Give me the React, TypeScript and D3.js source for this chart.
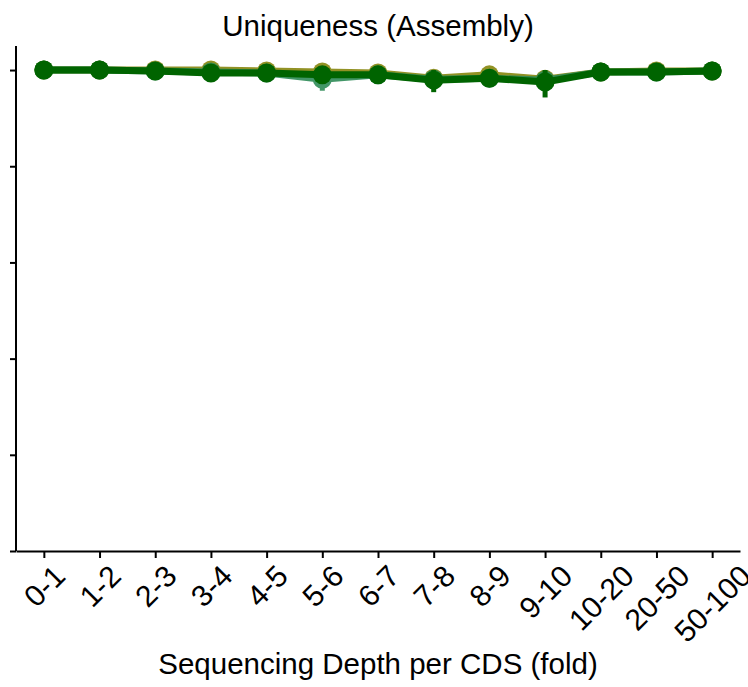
import React, { useEffect, useRef } from 'react';
import * as d3 from 'd3';

// depth bins on the x axis
const categories = ["0-1", "1-2", "2-3", "3-4", "4-5", "5-6", "6-7", "7-8", "8-9", "9-10", "10-20", "20-50", "50-100"];

// uniqueness per bin, three assemblies (drawn bottom to top)
const oliveValues = [1.0, 1.0, 1.0, 1.0, 0.998, 0.996, 0.994, 0.983, 0.99, 0.981, 0.996, 0.998, 0.998];
const oliveErrors = [0, 0, 0.001, 0.002, 0.002, 0.003, 0.003, 0.004, 0.004, 0.005, 0.002, 0.001, 0.001];

const tealValues = [1.0, 1.0, 0.998, 0.996, 0.994, 0.981, 0.99, 0.981, 0.983, 0.979, 0.996, 0.996, 0.998];
const tealErrors = [0, 0, 0.001, 0.002, 0.002, 0.024, 0.004, 0.008, 0.006, 0.01, 0.002, 0.001, 0.001];

const greenValues = [1.0, 1.0, 0.998, 0.994, 0.994, 0.99, 0.99, 0.979, 0.983, 0.975, 0.996, 0.996, 0.998];
const greenErrors = [0, 0, 0.001, 0.002, 0.002, 0.004, 0.003, 0.025, 0.012, 0.032, 0.002, 0.001, 0.001];

const yTicks = [0, 0.2, 0.4, 0.6, 0.8, 1.0];

const series = [
  { name: "olive", color: "#808000", opacity: 0.85, values: oliveValues, errors: oliveErrors },
  { name: "teal", color: "#2e8b57", opacity: 0.9, values: tealValues, errors: tealErrors },
  { name: "green", color: "#006400", opacity: 1, values: greenValues, errors: greenErrors },
];

const App = () => {
  const ref = useRef<SVGSVGElement>(null);

  useEffect(() => {
    const width = 748;
    const height = 687;
    const left = 16, right = 740, top = 46, bottom = 551;
    const font = "'Liberation Sans', Arial, sans-serif";

    const svg = d3.select(ref.current)
      .attr("width", width)
      .attr("height", height)
      .attr("viewBox", `0 0 ${width} ${height}`);

    svg.selectAll("*").remove();

    const x = d3.scalePoint<string>().domain(categories).range([left, right]).padding(0.5);
    const y = d3.scaleLinear().domain([0, 1.05]).range([bottom, top]);

    // axes
    const yAxis = svg.append("g")
      .attr("transform", `translate(${left},0)`)
      .call(d3.axisLeft(y).tickValues(yTicks).tickSize(6).tickFormat(() => ""));
    yAxis.select(".domain").attr("stroke-width", 2).attr("d", `M0,${top}V${bottom}`);
    yAxis.selectAll(".tick line").attr("stroke-width", 2);

    const xAxis = svg.append("g")
      .attr("transform", `translate(0,${bottom})`)
      .call(d3.axisBottom(x).tickSize(7).tickSizeOuter(0));
    xAxis.select(".domain").attr("stroke-width", 2);
    xAxis.selectAll(".tick line").attr("stroke-width", 2);

    const fs = 30;
    xAxis.selectAll<SVGTextElement, string>(".tick text")
      .attr("font-family", font)
      .attr("font-size", fs)
      .attr("fill", "#000")
      .attr("text-anchor", "middle")
      .attr("dy", "0.35em")
      .each(function () {
        const len = this.getComputedTextLength();
        const h = (len + fs * 0.72) * Math.SQRT1_2;
        d3.select(this).attr("y", null)
          .attr("transform", `translate(0,${12 + h / 2}) rotate(-45)`);
      });

    // series
    const line = d3.line<number>()
      .x((_, i) => x(categories[i])!)
      .y(d => y(d));

    series.forEach(s => {
      const g = svg.append("g").attr("opacity", s.opacity);
      g.append("path")
        .attr("d", line(s.values))
        .attr("fill", "none")
        .attr("stroke", s.color)
        .attr("stroke-width", 7)
        .attr("stroke-linejoin", "round");
      g.selectAll("line.err")
        .data(s.values)
        .join("line")
        .attr("class", "err")
        .attr("x1", (_, i) => x(categories[i])!)
        .attr("x2", (_, i) => x(categories[i])!)
        .attr("y1", (d, i) => y(Math.min(1, d + s.errors[i])))
        .attr("y2", (d, i) => y(d - s.errors[i]))
        .attr("stroke", s.color)
        .attr("stroke-width", 5);
      g.selectAll("circle")
        .data(s.values)
        .join("circle")
        .attr("cx", (_, i) => x(categories[i])!)
        .attr("cy", d => y(d))
        .attr("r", 9.5)
        .attr("fill", s.color);
    });

    // title and axis label
    svg.append("text")
      .attr("x", (left + right) / 2)
      .attr("y", 36)
      .attr("text-anchor", "middle")
      .attr("font-family", font)
      .attr("font-size", 29.5)
      .text("Uniqueness (Assembly)");

    svg.append("text")
      .attr("x", (left + right) / 2)
      .attr("y", 674)
      .attr("text-anchor", "middle")
      .attr("font-family", font)
      .attr("font-size", 29.5)
      .text("Sequencing Depth per CDS (fold)");
  }, []);

  return (
    <svg ref={ref} style={{ position: "absolute", left: 0, top: 0 }}></svg>
  );
};

export default App;
